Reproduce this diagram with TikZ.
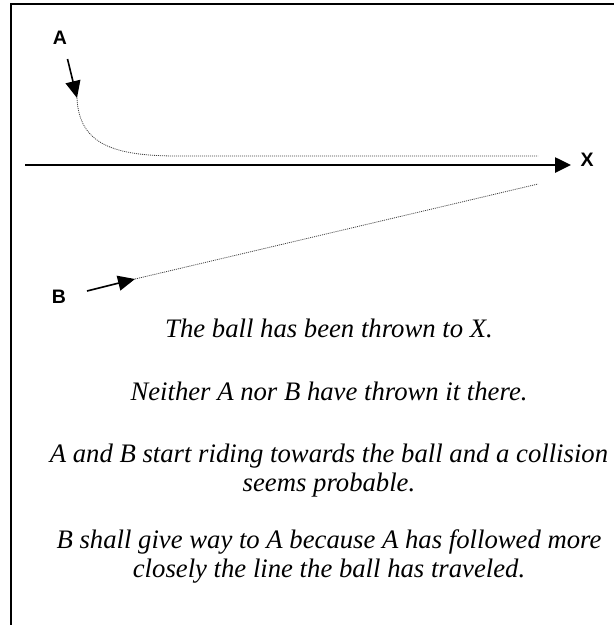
\documentclass[tikz,border=0pt]{standalone}
\usepackage{fontspec}
\setmainfont{Liberation Serif}
\newfontfamily\labelfont{Liberation Sans}
\usetikzlibrary{arrows.meta}
\tikzset{
  lbl/.style={font=\labelfont\bfseries\fontsize{19.5}{22}\selectfont, inner sep=0pt},
  txt/.style={font=\itshape\fontsize{26.7}{29}\selectfont, inner sep=0pt, anchor=base},
  path/.style={line width=0.8pt, dash pattern=on 1pt off 1pt, black!75},
  rider/.style={line width=1.6pt, -{Triangle[length=17pt,width=15pt]}},
  ballarrow/.style={line width=2.6pt, -{Triangle[length=16pt,width=15pt]}}
}
\begin{document}
\begin{tikzpicture}[x=1pt,y=-1pt]
\useasboundingbox (0,0) rectangle (614,625);
\draw[line width=2.6pt] (11,625) -- (11,4) -- (614,4);
\node[lbl] (A) at (60,38) {A};
\node[lbl] (B) at (59,297) {B};
\node[lbl] (X) at (587,160) {X};
\coordinate (a0) at (67.5,59);
\coordinate (a1) at (77,98);
\coordinate (a2) at (178,156);
\coordinate (a3) at (538,156);
\coordinate (b0) at (87,291);
\coordinate (b1) at (135,279);
\coordinate (b2) at (538,184);
\coordinate (x0) at (25,165);
\coordinate (x1) at (571,165);
\draw[rider] (a0) -- (a1);
\draw[path] (a1) .. controls (79,145) and (115,156) .. (a2) -- (a3);
\draw[rider] (b0) -- (b1);
\draw[path] (b1) -- (b2);
\draw[ballarrow] (x0) -- (x1);
\node[txt] (t1) at (329,337) {The ball has been thrown to X.};
\node[txt] (t2) at (329,400) {Neither A nor B have thrown it there.};
\node[txt] (t3a) at (329,462) {A and B start riding towards the ball and a collision};
\node[txt] (t3b) at (329,491) {seems probable.};
\node[txt] (t4a) at (329,548) {B shall give way to A because A has followed more};
\node[txt] (t4b) at (329,577) {closely the line the ball has traveled.};
\end{tikzpicture}
\end{document}
